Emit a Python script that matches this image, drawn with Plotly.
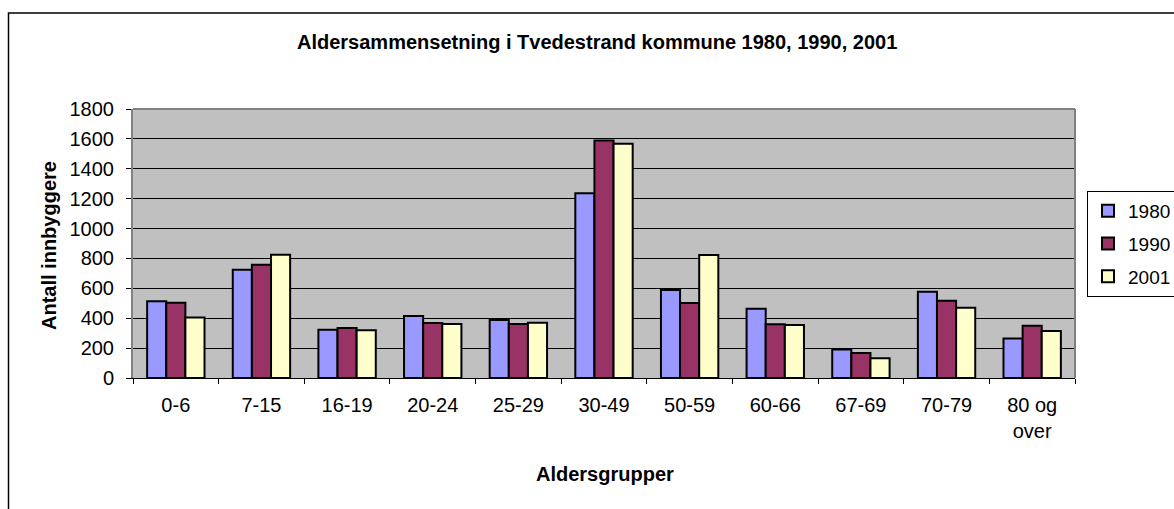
import plotly.graph_objects as go

categories = ["0-6", "7-15", "16-19", "20-24", "25-29", "30-49", "50-59", "60-66", "67-69", "70-79", "80 og<br>over"]
v1980 = [513, 725, 323, 415, 388, 1237, 589, 464, 190, 577, 265]
v1990 = [504, 758, 334, 368, 361, 1590, 502, 359, 167, 517, 350]
v2001 = [404, 825, 319, 361, 370, 1567, 823, 355, 132, 470, 314]
series_names = ["1980", "1990", "2001"]
colors = ["#9999FF", "#993366", "#FFFFCC"]
y_ticks = [0, 200, 400, 600, 800, 1000, 1200, 1400, 1600, 1800]

W, H = 1174, 509
L, R, T, B = 133, 1075, 109, 378
pw, ph = R - L, B - T

def px(x):
    return (x - L) / pw

def py(y):
    return (B - y) / ph

FONT = "Liberation Sans, Arial, sans-serif"
FS = 20

fig = go.Figure()
for name, vals, col in zip(series_names, [v1980, v1990, v2001], colors):
    fig.add_trace(go.Bar(
        x=categories, y=vals, name=name, legendgroup=name,
        marker=dict(color=col, line=dict(color="black", width=2)),
    ))

fig.update_layout(
    width=W, height=H,
    margin=dict(l=L, r=W - R, t=T, b=H - B, pad=0, autoexpand=False),
    paper_bgcolor="white",
    plot_bgcolor="#C0C0C0",
    barmode="group",
    bargap=0.33,
    bargroupgap=0,
    font=dict(family=FONT, size=FS, color="black"),
    showlegend=True,
    legend=dict(
        x=px(1087), y=py(191), xanchor="left", yanchor="top",
        bordercolor="black", borderwidth=1, bgcolor="white",
        font=dict(family=FONT, size=19),
        tracegroupgap=5,
        itemwidth=30,
    ),
    xaxis=dict(
        type="category",
        showgrid=False,
        ticks="outside", tickson="boundaries", ticklen=5, tickcolor="black",
        showline=True, linecolor="black", linewidth=1,
        tickfont=dict(family=FONT, size=FS),
        ticklabelstandoff=9,
    ),
    yaxis=dict(
        range=[0, 1800],
        tickvals=y_ticks,
        ticktext=[str(t) for t in y_ticks],
        showgrid=True, gridcolor="black", gridwidth=1,
        ticks="outside", ticklen=5, tickcolor="black",
        showline=True, linecolor="#808080", linewidth=2,
        tickfont=dict(family=FONT, size=FS),
        ticklabelstandoff=8,
        zeroline=False,
    ),
    annotations=[
        dict(text="<b>Aldersammensetning i Tvedestrand kommune 1980, 1990, 2001</b>",
             x=px(597), y=py(42), xref="paper", yref="paper",
             xanchor="center", yanchor="middle", showarrow=False,
             font=dict(family=FONT, size=FS)),
        dict(text="<b>Antall innbyggere</b>",
             x=px(49), y=py(246), xref="paper", yref="paper",
             xanchor="center", yanchor="middle", showarrow=False, textangle=-90,
             font=dict(family=FONT, size=FS)),
        dict(text="<b>Aldersgrupper</b>",
             x=px(605), y=py(474), xref="paper", yref="paper",
             xanchor="center", yanchor="middle", showarrow=False,
             font=dict(family=FONT, size=FS)),
    ],
    shapes=[
        dict(type="rect", xref="paper", yref="paper",
             x0=px(8.5), x1=px(1200), y0=py(13), y1=py(540),
             line=dict(color="black", width=1.5), fillcolor="rgba(0,0,0,0)", layer="below"),
        dict(type="line", xref="paper", yref="paper",
             x0=0, x1=1, y0=1, y1=1, line=dict(color="#808080", width=2)),
        dict(type="line", xref="paper", yref="paper",
             x0=1, x1=1, y0=0, y1=1, line=dict(color="#808080", width=2)),
    ],
)

fig.write_html(
    "out.html",
    config={"displayModeBar": False},
    post_script="document.body.style.margin='0';document.body.style.overflow='hidden';",
)
